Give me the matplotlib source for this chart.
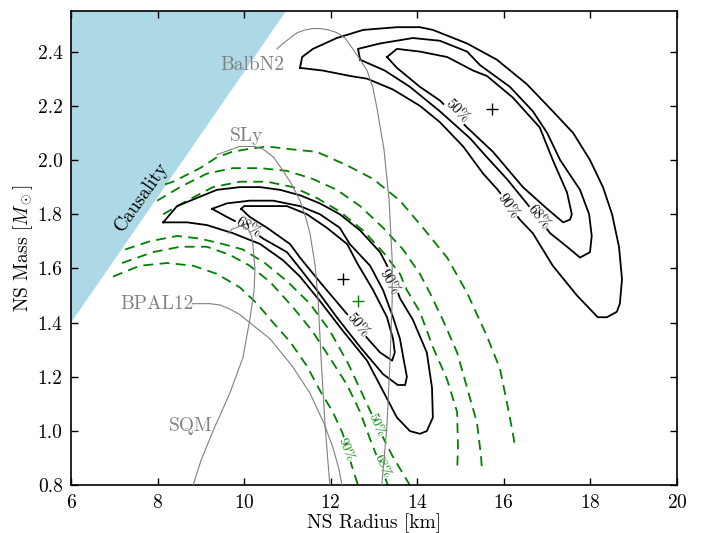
import numpy as np
import matplotlib
matplotlib.use("Agg")
import matplotlib.pyplot as plt

plt.rcParams['font.family'] = 'serif'
plt.rcParams['font.serif'] = ['cmr10']
plt.rcParams['mathtext.fontset'] = 'cm'
plt.rcParams['axes.formatter.use_mathtext'] = True
plt.rcParams['axes.unicode_minus'] = False

# ---- causality limit ----
causality_R = [6.0, 10.97, 6.0]
causality_M = [1.40, 2.55, 2.55]

# ---- high-mass source credible regions (closed) ----
hi90_R = [11.29, 11.34, 11.59, 12.14, 12.75, 13.53, 14.06, 14.36, 15.15, 15.84, 16.53, 17.13, 17.60,
          17.99, 18.29, 18.50, 18.66, 18.73, 18.68, 18.61, 18.38, 18.17, 17.69, 17.13, 16.67, 16.37,
          15.86, 15.52, 15.06, 14.52, 14.06, 13.44, 12.84, 12.45, 11.82, 11.29]
hi90_M = [2.34, 2.38, 2.41, 2.45, 2.48, 2.49, 2.49, 2.48, 2.43, 2.37, 2.28, 2.18, 2.10,
          2.00, 1.90, 1.80, 1.68, 1.56, 1.47, 1.44, 1.42, 1.42, 1.50, 1.61, 1.73, 1.78,
          1.89, 1.95, 2.05, 2.14, 2.20, 2.26, 2.30, 2.31, 2.33, 2.34]
hi68_R = [12.68, 12.63, 13.14, 13.90, 14.52, 15.15, 15.45, 16.14, 16.67, 17.00, 17.30, 17.76, 17.97,
          18.03, 17.99, 17.76, 17.46, 17.07, 16.53, 16.07, 15.61, 15.22, 14.52, 13.83, 13.25, 12.68]
hi68_M = [2.37, 2.41, 2.43, 2.45, 2.44, 2.40, 2.35, 2.27, 2.18, 2.10, 2.00, 1.89, 1.80,
          1.72, 1.66, 1.64, 1.68, 1.73, 1.84, 1.93, 2.01, 2.08, 2.18, 2.27, 2.33, 2.37]
hi50_R = [13.30, 13.53, 14.06, 14.69, 15.29, 15.61, 16.21, 16.83, 17.13, 17.46, 17.57, 17.53, 17.37,
          17.00, 16.44, 15.75, 15.15, 14.52, 14.06, 13.53, 13.30]
hi50_M = [2.38, 2.41, 2.40, 2.38, 2.33, 2.31, 2.23, 2.12, 2.00, 1.88, 1.80, 1.78, 1.77,
          1.82, 1.90, 2.03, 2.12, 2.22, 2.27, 2.34, 2.38]

# ---- low-mass source credible regions (closed) ----
lo90_R = [8.13, 8.45, 8.91, 9.37, 9.90, 10.37, 10.83, 11.29, 11.75, 12.21, 12.68, 13.14, 13.37, 13.60,
          13.90, 14.22, 14.34, 14.36, 14.22, 14.06, 13.83, 13.53, 13.30, 12.84, 12.28, 11.75, 11.29,
          10.90, 10.37, 9.74, 9.14, 8.68, 8.13]
lo90_M = [1.77, 1.83, 1.86, 1.89, 1.90, 1.90, 1.89, 1.87, 1.84, 1.80, 1.74, 1.66, 1.59, 1.49,
          1.41, 1.29, 1.16, 1.05, 1.00, 0.99, 1.00, 1.05, 1.12, 1.26, 1.37, 1.48, 1.57,
          1.63, 1.69, 1.73, 1.76, 1.77, 1.77]
lo68_R = [9.26, 9.60, 10.13, 10.67, 11.29, 11.75, 12.21, 12.44, 12.91, 13.21, 13.44, 13.60, 13.69,
          13.76, 13.72, 13.55, 13.21, 12.68, 12.14, 11.68, 11.29, 10.99, 10.44, 10.09, 9.60, 9.26]
lo68_M = [1.82, 1.84, 1.85, 1.85, 1.83, 1.80, 1.75, 1.69, 1.61, 1.52, 1.42, 1.34, 1.26,
          1.20, 1.17, 1.17, 1.21, 1.31, 1.42, 1.52, 1.60, 1.66, 1.71, 1.75, 1.79, 1.82]
lo50_R = [9.93, 10.00, 10.37, 10.99, 11.45, 11.91, 12.38, 12.61, 12.98, 13.30, 13.44, 13.48, 13.42,
          13.14, 12.86, 12.28, 11.75, 11.29, 11.06, 10.53, 10.13, 9.93]
lo50_M = [1.82, 1.83, 1.83, 1.83, 1.80, 1.75, 1.69, 1.62, 1.52, 1.42, 1.34, 1.29, 1.26,
          1.29, 1.34, 1.45, 1.55, 1.64, 1.69, 1.75, 1.79, 1.82]

# ---- combined (green) regions: outer and inner arcs ----
g90_upper_R = [8.17, 8.36, 8.98, 9.37, 9.72, 10.07, 10.53, 11.06, 11.68, 12.38, 12.98, 13.60, 14.13,
               14.69, 15.15, 15.61, 15.91, 16.09, 16.21, 16.26]
g90_upper_M = [1.91, 1.92, 1.97, 2.01, 2.03, 2.04, 2.05, 2.04, 2.03, 1.98, 1.93, 1.85, 1.75,
               1.64, 1.51, 1.35, 1.23, 1.09, 0.99, 0.94]
g68_upper_R = [7.99, 8.52, 9.14, 9.74, 10.37, 10.99, 11.59, 12.14, 12.68, 13.21, 13.67, 14.06, 14.29,
               14.59, 14.92, 15.15, 15.38, 15.47, 15.49]
g68_upper_M = [1.85, 1.90, 1.95, 1.97, 1.97, 1.96, 1.93, 1.89, 1.83, 1.75, 1.67, 1.58, 1.51,
               1.41, 1.29, 1.16, 1.03, 0.91, 0.87]
g50_upper_R = [8.13, 8.68, 9.28, 9.90, 10.53, 11.13, 11.68, 12.21, 12.75, 13.21, 13.60, 13.76, 14.06,
               14.36, 14.69, 14.92, 14.94, 14.92]
g50_upper_M = [1.80, 1.85, 1.90, 1.92, 1.92, 1.90, 1.86, 1.81, 1.74, 1.66, 1.58, 1.52, 1.44,
               1.31, 1.19, 1.07, 0.94, 0.85]
g90_lower_R = [6.97, 7.59, 8.22, 8.82, 9.37, 9.90, 10.30, 10.67, 11.06, 11.45, 11.75, 12.05, 12.28,
               12.49, 12.63]
g90_lower_M = [1.57, 1.61, 1.62, 1.61, 1.58, 1.53, 1.47, 1.40, 1.33, 1.24, 1.15, 1.07, 0.99,
               0.87, 0.80]
g68_lower_R = [7.18, 7.89, 8.52, 9.14, 9.67, 10.13, 10.60, 11.11, 11.57, 11.98, 12.38, 12.68, 12.91,
               13.18, 13.32]
g68_lower_M = [1.62, 1.66, 1.68, 1.68, 1.65, 1.61, 1.55, 1.46, 1.37, 1.27, 1.17, 1.07, 0.97,
               0.86, 0.80]
g50_lower_R = [7.25, 7.82, 8.45, 8.98, 9.51, 9.97, 10.48, 11.01, 11.52, 11.98, 12.40, 12.75, 13.07,
               13.42, 13.83]
g50_lower_M = [1.67, 1.70, 1.72, 1.71, 1.69, 1.67, 1.62, 1.55, 1.47, 1.37, 1.25, 1.13, 1.02,
               0.91, 0.80]

# ---- best-fit points ----
best_black_R = [15.72, 12.29]
best_black_M = [2.19, 1.56]
best_green_R = [12.64]
best_green_M = [1.48]

# ---- equation-of-state mass-radius curves ----
balb_R = [10.76, 10.90, 11.06, 11.23, 11.41, 11.58, 11.75, 11.95, 12.14, 12.33, 12.51, 12.68, 12.84,
          12.97, 13.07, 13.23, 13.35, 13.42, 13.42, 13.37, 13.30, 13.18]
balb_M = [2.41, 2.43, 2.45, 2.47, 2.48, 2.485, 2.485, 2.48, 2.47, 2.45, 2.41, 2.37, 2.33,
          2.27, 2.19, 2.04, 1.85, 1.63, 1.48, 1.26, 1.02, 0.80]
sly_R = [9.37, 9.55, 9.72, 9.90, 10.07, 10.25, 10.44, 10.68, 10.90, 11.10, 11.29, 11.42, 11.52, 11.64,
         11.71, 11.78, 11.87, 11.98]
sly_M = [2.02, 2.03, 2.04, 2.05, 2.05, 2.05, 2.04, 2.01, 1.96, 1.91, 1.85, 1.79, 1.73, 1.61,
         1.48, 1.26, 1.02, 0.80]
sqm_R = [9.63, 9.72, 9.81, 9.90, 9.97, 10.05, 10.11, 10.17, 10.20, 10.25, 10.23, 10.13, 9.97, 9.67,
         9.28, 9.00, 8.82]
sqm_M = [1.73, 1.745, 1.75, 1.755, 1.755, 1.75, 1.74, 1.72, 1.69, 1.60, 1.52, 1.41, 1.27, 1.14,
         1.00, 0.89, 0.80]
bpal_R = [8.80, 9.21, 9.45, 9.67, 9.90, 10.13, 10.60, 11.11, 11.52, 11.84, 12.05, 12.19, 12.26]
bpal_M = [1.47, 1.47, 1.465, 1.45, 1.43, 1.40, 1.34, 1.24, 1.14, 1.03, 0.94, 0.86, 0.80]

eos_names = ['BalbN2', 'SLy', 'BPAL12', 'SQM']
eos_label_R = [10.20, 10.06, 7.98, 8.77]
eos_label_M = [2.35, 2.09, 1.47, 1.02]

# contour level labels: (text, R, M, rotation)
black_labels = [('50%', 14.92, 2.18, -45), ('90%', 16.09, 1.83, -55), ('68%', 16.81, 1.79, -50),
                ('68%', 10.09, 1.75, -30), ('90%', 13.35, 1.55, -60), ('50%', 12.61, 1.39, -50)]
green_labels = [('90%', 12.35, 0.93, -68), ('50%', 13.05, 1.02, -65), ('68%', 13.18, 0.87, -65)]

fig = plt.figure(figsize=(7.03, 5.33), dpi=100)
ax = fig.add_axes([0.101, 0.0895, 0.862, 0.890])

ax.fill(causality_R, causality_M, color='lightblue', lw=0, zorder=0)
ax.text(7.63, 1.865, 'Causality', rotation=55, fontsize=14, ha='center', va='center')

dash = dict(color='green', lw=1.3, ls=(0, (5.5, 3.5)), zorder=2)
for r, m in [(g90_upper_R, g90_upper_M), (g68_upper_R, g68_upper_M), (g50_upper_R, g50_upper_M),
             (g90_lower_R, g90_lower_M), (g68_lower_R, g68_lower_M), (g50_lower_R, g50_lower_M)]:
    ax.plot(r, m, **dash)

for r, m in [(hi90_R, hi90_M), (hi68_R, hi68_M), (hi50_R, hi50_M),
             (lo90_R, lo90_M), (lo68_R, lo68_M), (lo50_R, lo50_M)]:
    ax.plot(r, m, color='black', lw=1.3, zorder=2)

for txt, r, m, rot in black_labels:
    ax.text(r, m, txt, rotation=rot, fontsize=10.5, ha='center', va='center', color='black',
            rotation_mode='anchor', zorder=3,
            bbox=dict(fc='white', ec='none', pad=0.3))
for txt, r, m, rot in green_labels:
    ax.text(r, m, txt, rotation=rot, fontsize=9.5, ha='center', va='center', color='green',
            rotation_mode='anchor', zorder=3,
            bbox=dict(fc='white', ec='none', pad=0.3))

for r, m in [(balb_R, balb_M), (sly_R, sly_M), (sqm_R, sqm_M), (bpal_R, bpal_M)]:
    ax.plot(r, m, color='gray', lw=0.8, zorder=4)
for name, r, m in zip(eos_names, eos_label_R, eos_label_M):
    ax.text(r, m, name, color='gray', fontsize=14, ha='center', va='center', zorder=5)

ax.plot(best_black_R, best_black_M, '+', color='black', ms=8, mew=1, zorder=5)
ax.plot(best_green_R, best_green_M, '+', color='green', ms=8, mew=1, zorder=5)

ax.set_xlim(6, 20)
ax.set_ylim(0.8, 2.55)
ax.set_xticks([6, 8, 10, 12, 14, 16, 18, 20])
ax.set_yticks([0.8, 1.0, 1.2, 1.4, 1.6, 1.8, 2.0, 2.2, 2.4])
ax.yaxis.set_major_formatter(matplotlib.ticker.FormatStrFormatter('%.1f'))
ax.tick_params(direction='in', top=True, right=True, length=5, width=1, labelsize=14, pad=6)
for s in ax.spines.values():
    s.set_linewidth(1.2)

ax.set_xlabel('NS Radius [km]', fontsize=14, labelpad=1)
ax.set_ylabel(r'NS Mass [$M_\odot$]', fontsize=14, labelpad=2)

fig.savefig('out.png', dpi=100)
